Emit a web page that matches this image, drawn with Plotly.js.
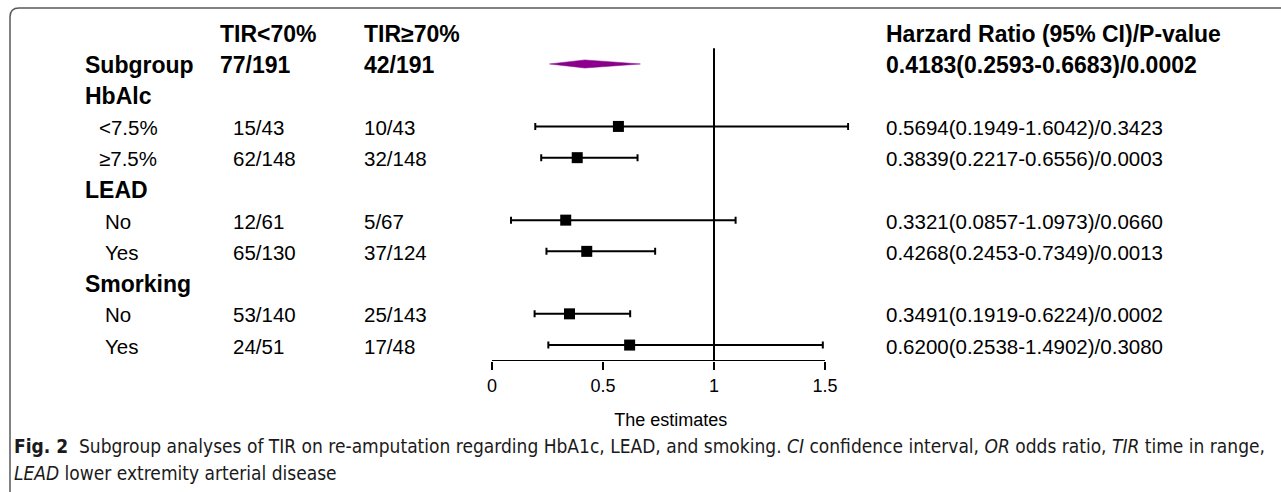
<!DOCTYPE html>
<html>
<head>
<meta charset="utf-8">
<script src="https://cdn.plot.ly/plotly-3.0.1.min.js"></script>
<style>
  html, body { margin: 0; padding: 0; background: #ffffff; }
  #chart { width: 1281px; height: 492px; }
</style>
</head>
<body>
<div id="chart"></div>
<script>
// ---------------- data ----------------
const colHeaders = ['TIR<70%', 'TIR≥70%'];
const overallLabel = 'Subgroup';
const overallLow = '77/191';
const overallHigh = '42/191';
const overallHR = 0.4183;
const overallLo = 0.2593;
const overallHi = 0.6683;
const overallP = 0.0002;
const resultHeader = 'Harzard Ratio (95% CI)/P-value';

const groupNames = ['HbAlc', 'LEAD', 'Smorking'];
const subLabels = ['<7.5%', '≥7.5%', 'No', 'Yes', 'No', 'Yes'];
const subGroupIdx = [0, 0, 1, 1, 2, 2];
const eventsLow = ['15/43', '62/148', '12/61', '65/130', '53/140', '24/51'];
const eventsHigh = ['10/43', '32/148', '5/67', '37/124', '25/143', '17/48'];
const hrVals = [0.5694, 0.3839, 0.3321, 0.4268, 0.3491, 0.6200];
const loVals = [0.1949, 0.2217, 0.0857, 0.2453, 0.1919, 0.2538];
const hiVals = [1.6042, 0.6556, 1.0973, 0.7349, 0.6224, 1.4902];
const pVals = [0.3423, 0.0003, 0.0660, 0.0013, 0.0002, 0.3080];

const tickVals = [0, 0.5, 1, 1.5];
const tickText = ['0', '0.5', '1', '1.5'];
const refValue = 1;
const xTitle = 'The estimates';
const caption1 = '<b>Fig. 2</b>  Subgroup analyses of TIR on re-amputation regarding HbA1c, LEAD, and smoking. <i>CI</i> confidence interval, <i>OR</i> odds ratio, <i>TIR</i> time in range,';
const caption2 = '<i>LEAD</i> lower extremity arterial disease';

// ---------------- layout helpers ----------------
const W = 1281, H = 492;
const px = v => v / W;               // paper x from pixel
const py = v => 1 - v / H;           // paper y from pixel
const FONT = 'Liberation Sans, Arial, Helvetica, sans-serif';
const CAPFONT = 'Liberation Sans Narrow, DejaVu Sans Condensed, Arial Narrow, sans-serif';
const BOLD = 23, REG = 20.5;

// rows: header -1, overall 0, group g at 1+3g, subs after
const subRows = subLabels.map((_, i) => 2 + 3 * subGroupIdx[i] + (i % 2));
const groupRows = groupNames.map((_, g) => 1 + 3 * g);
const yRange = [9.51, -1.6];
const xRange = [0, 1.61];
const axisEnd = tickVals[tickVals.length - 1];

const annotations = [];
function ann(text, xpix, row, size, bold) {
  annotations.push({
    text: bold ? '<b>' + text + '</b>' : text,
    x: px(xpix), xref: 'paper', xanchor: 'left',
    y: row, yref: 'y', yanchor: 'middle', yshift: -1,
    showarrow: false,
    font: { family: FONT, size: size, color: '#000000' }
  });
}
const fmt = v => v.toFixed(4);

// header row
ann(colHeaders[0], 218, -1, BOLD, true);
ann(colHeaders[1], 362, -1, BOLD, true);
ann(resultHeader, 884, -1, BOLD, true);
// overall row
ann(overallLabel, 83, 0, BOLD, true);
ann(overallLow, 218, 0, BOLD, true);
ann(overallHigh, 362, 0, BOLD, true);
ann(fmt(overallHR) + '(' + fmt(overallLo) + '-' + fmt(overallHi) + ')/' + fmt(overallP), 884, 0, BOLD, true);
// group titles
groupNames.forEach((g, i) => ann(g, 83, groupRows[i], BOLD, true));
// sub rows
subLabels.forEach((s, i) => {
  const r = subRows[i];
  ann(s, (s === 'No' || s === 'Yes') ? 103 : 97, r, REG, false);
  ann(eventsLow[i], 231, r, REG, false);
  ann(eventsHigh[i], 362, r, REG, false);
  ann(fmt(hrVals[i]) + '(' + fmt(loVals[i]) + '-' + fmt(hiVals[i]) + ')/' + fmt(pVals[i]), 884, r, REG, false);
});
// caption
annotations.push({
  text: caption1, x: px(12), xref: 'paper', xanchor: 'left',
  y: py(446), yref: 'paper', yanchor: 'middle', showarrow: false,
  font: { family: CAPFONT, size: 19, color: '#1a1a1a' }
});
annotations.push({
  text: caption2, x: px(12), xref: 'paper', xanchor: 'left',
  y: py(473), yref: 'paper', yanchor: 'middle', showarrow: false,
  font: { family: CAPFONT, size: 19, color: '#1a1a1a' }
});

// ---------------- traces ----------------
const diamondHalf = 0.13;
const diamond = {
  type: 'scatter', mode: 'lines',
  x: [overallLo, overallHR, overallHi, overallHR, overallLo],
  y: [0, -diamondHalf, 0, diamondHalf, 0],
  fill: 'toself', fillcolor: '#8b008b',
  line: { color: '#8b008b', width: 0.5 },
  hoverinfo: 'skip', showlegend: false
};
const points = {
  type: 'scatter', mode: 'markers',
  x: hrVals, y: subRows,
  marker: { symbol: 'square', size: 11, color: '#000000' },
  error_x: {
    type: 'data', symmetric: false,
    array: hiVals.map((h, i) => h - hrVals[i]),
    arrayminus: loVals.map((l, i) => hrVals[i] - l),
    color: '#000000', thickness: 2, width: 3.5
  },
  cliponaxis: false,
  hoverinfo: 'skip', showlegend: false
};

// ---------------- layout ----------------
const x0px = 492, unitPx = 222;
const layout = {
  width: W, height: H,
  margin: { l: 0, r: 0, t: 0, b: 0, pad: 0 },
  paper_bgcolor: '#ffffff', plot_bgcolor: 'rgba(0,0,0,0)',
  showlegend: false,
  xaxis: {
    domain: [px(x0px), px(x0px + unitPx * (xRange[1] - xRange[0]))], range: xRange,
    tickmode: 'array', tickvals: tickVals, ticktext: tickText,
    showline: false,
    ticks: 'outside', ticklen: 8, tickwidth: 2, tickcolor: '#000000',
    showgrid: false, zeroline: false,
    tickfont: { family: FONT, size: 18, color: '#000000' },
    title: { text: xTitle, font: { family: FONT, size: 18, color: '#000000' }, standoff: 18 },
    fixedrange: true
  },
  yaxis: {
    domain: [py(361), py(14)], range: yRange,
    visible: false, showgrid: false, zeroline: false, fixedrange: true
  },
  shapes: [
    // reference line at HR = 1
    { type: 'line', xref: 'x', yref: 'y', x0: refValue, x1: refValue, y0: -0.5, y1: yRange[0],
      line: { color: '#000000', width: 2 } },
    // axis line from 0 to last tick
    { type: 'line', xref: 'x', yref: 'y', x0: tickVals[0], x1: axisEnd, y0: yRange[0], y1: yRange[0],
      line: { color: '#000000', width: 2 } },
    // figure frame
    { type: 'path', xref: 'paper', yref: 'paper',
      path: `M ${px(10)} ${py(500)} L ${px(10)} ${py(17)} Q ${px(10)} ${py(8)} ${px(19)} ${py(8)} L ${px(1290)} ${py(8)}`,
      line: { color: '#5a5a5a', width: 1.5 } }
  ],
  annotations: annotations
};

Plotly.newPlot('chart', [diamond, points], layout, { staticPlot: true, displayModeBar: false });
</script>
</body>
</html>
